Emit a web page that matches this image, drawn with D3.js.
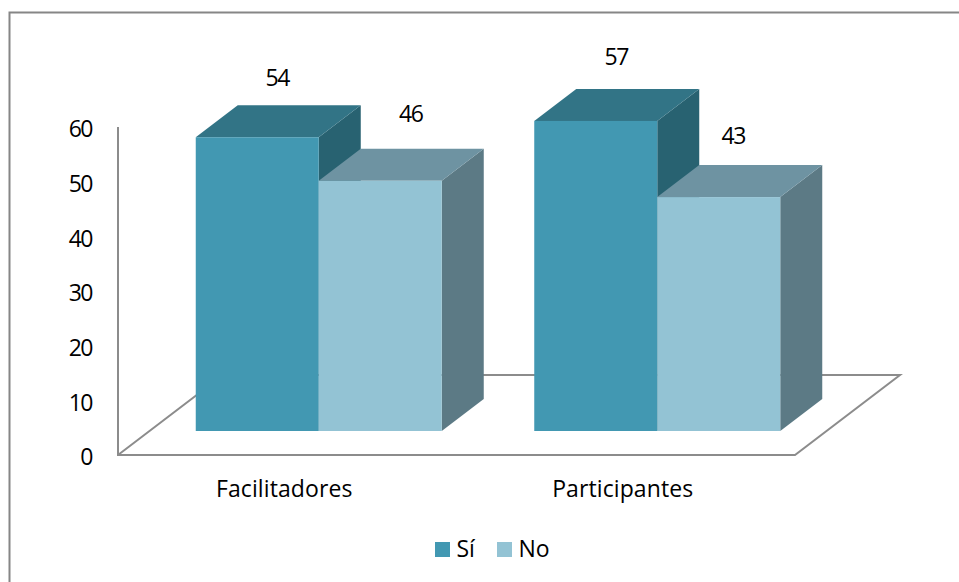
<!DOCTYPE html>
<html>
<head>
<meta charset="utf-8">
<script src="https://cdn.jsdelivr.net/npm/d3@7"></script>
<style>
  html, body { margin: 0; padding: 0; background: #fff; }
  text { font-family: "Open Sans", Lato, sans-serif; fill: #000; }
</style>
</head>
<body>
<div id="viz"></div>
<script>
var categories = ["Facilitadores", "Participantes"];
var seriesNames = ["Sí", "No"];
var si = [54, 57];
var no = [46, 43];
var ticks = [0, 10, 20, 30, 40, 50, 60];

var width = 959, height = 582;
var wallLeft = 118, wallBottom = 455, wallTop = 127;
var floorRight = 795;
var depthX = 42, depthY = 32;      // depth of a bar
var floorX = 105, floorY = 80;     // depth of the floor

var front = {Sí: "#4298b2", No: "#93c3d4"};
var top3d = {Sí: "#327486", No: "#6e93a2"};
var side = {Sí: "#286271", No: "#5c7a85"};
var axisColor = "#8c8c8c";

var svg = d3.select("#viz").append("svg")
  .attr("width", width)
  .attr("height", height)
  .style("display", "block");

// outer frame, only top and left show in the picture
svg.append("path")
  .attr("d", "M9.5,582V12.5H959")
  .attr("fill", "none")
  .attr("stroke", "#868686")
  .attr("stroke-width", 2);

var y = d3.scaleLinear().domain([0, 60]).range([wallBottom, wallTop]);
var barY = d3.scaleLinear().domain([0, 60]).range([431, 104.6]);
var x0 = d3.scaleBand().domain(categories).range([wallLeft, floorRight]);
var x1 = d3.scaleBand().domain(seriesNames).range([0, 246]);

// floor and wall
svg.append("path")
  .attr("d", "M" + wallLeft + "," + wallTop + "V" + wallBottom + "H" + floorRight +
    "L" + (floorRight + floorX) + "," + (wallBottom - floorY) + "H" + (wallLeft + floorX) +
    "L" + wallLeft + "," + wallBottom)
  .attr("fill", "none")
  .attr("stroke", axisColor)
  .attr("stroke-width", 2);

var yAxis = d3.axisLeft(y).tickValues(ticks).tickSize(0).tickPadding(26);
var gy = svg.append("g").attr("transform", "translate(" + wallLeft + ",0)").call(yAxis);
gy.select(".domain").remove();
gy.selectAll("text")
  .attr("font-size", 23)
  .attr("dy", "0.42em")
  .attr("letter-spacing", -1.5);

var rows = [];
categories.forEach(function(c, i) {
  rows.push({cat: c, name: "Sí", value: si[i], i: i});
  rows.push({cat: c, name: "No", value: no[i], i: i});
});

function barLeft(d) {
  return x0(d.cat) + (x0.bandwidth() - 246) / 2 + x1(d.name) + 31.5;
}

// the labels were dragged by hand in the original, each sits a bit differently
var labelShift = {Sí: [[20, 51], [20.5, 56]], No: [[30.5, 59], [14.5, 53]]};

var bars = svg.selectAll(".bar").data(rows).enter().append("g").attr("class", "bar");

// side faces go first so the next bar covers them
bars.append("path")
  .attr("fill", function(d) { return side[d.name]; })
  .attr("d", function(d) {
    var r = barLeft(d) + x1.bandwidth(), t = barY(d.value), b = barY(0);
    return "M" + r + "," + t + "l" + depthX + "," + (-depthY) + "V" + (b - depthY) + "L" + r + "," + b + "Z";
  });
bars.append("path")
  .attr("fill", function(d) { return top3d[d.name]; })
  .attr("d", function(d) {
    var l = barLeft(d), w = x1.bandwidth(), t = barY(d.value);
    return "M" + l + "," + t + "l" + depthX + "," + (-depthY) + "h" + w + "l" + (-depthX) + "," + depthY + "Z";
  });
bars.append("rect")
  .attr("fill", function(d) { return front[d.name]; })
  .attr("x", barLeft)
  .attr("y", function(d) { return barY(d.value); })
  .attr("width", x1.bandwidth())
  .attr("height", function(d) { return barY(0) - barY(d.value); });

bars.append("text")
  .attr("text-anchor", "middle")
  .attr("font-size", 23)
  .attr("letter-spacing", -1.5)
  .attr("x", function(d) { return barLeft(d) + x1.bandwidth() / 2 + labelShift[d.name][d.i][0]; })
  .attr("y", function(d) { return barY(d.value) - labelShift[d.name][d.i][1]; })
  .text(function(d) { return d.value; });

// category labels
svg.selectAll(".cat").data(categories).enter().append("text")
  .attr("class", "cat")
  .attr("text-anchor", "middle")
  .attr("font-size", 23)
  .attr("letter-spacing", 0.1)
  .attr("x", function(d) { return x0(d) + x0.bandwidth() / 2 - 3; })
  .attr("y", 497)
  .text(function(d) { return d; });

// legend
var legendX = d3.scalePoint().domain(seriesNames).range([435, 497]);
var legend = svg.selectAll(".leg").data(seriesNames).enter().append("g").attr("class", "leg");
legend.append("rect")
  .attr("x", function(d) { return legendX(d); })
  .attr("y", 542)
  .attr("width", 15)
  .attr("height", 15)
  .attr("fill", function(d) { return front[d]; });
legend.append("text")
  .attr("x", function(d) { return legendX(d) + 21.5; })
  .attr("y", 557)
  .attr("font-size", 23)
  .text(function(d) { return d; });
</script>
</body>
</html>
